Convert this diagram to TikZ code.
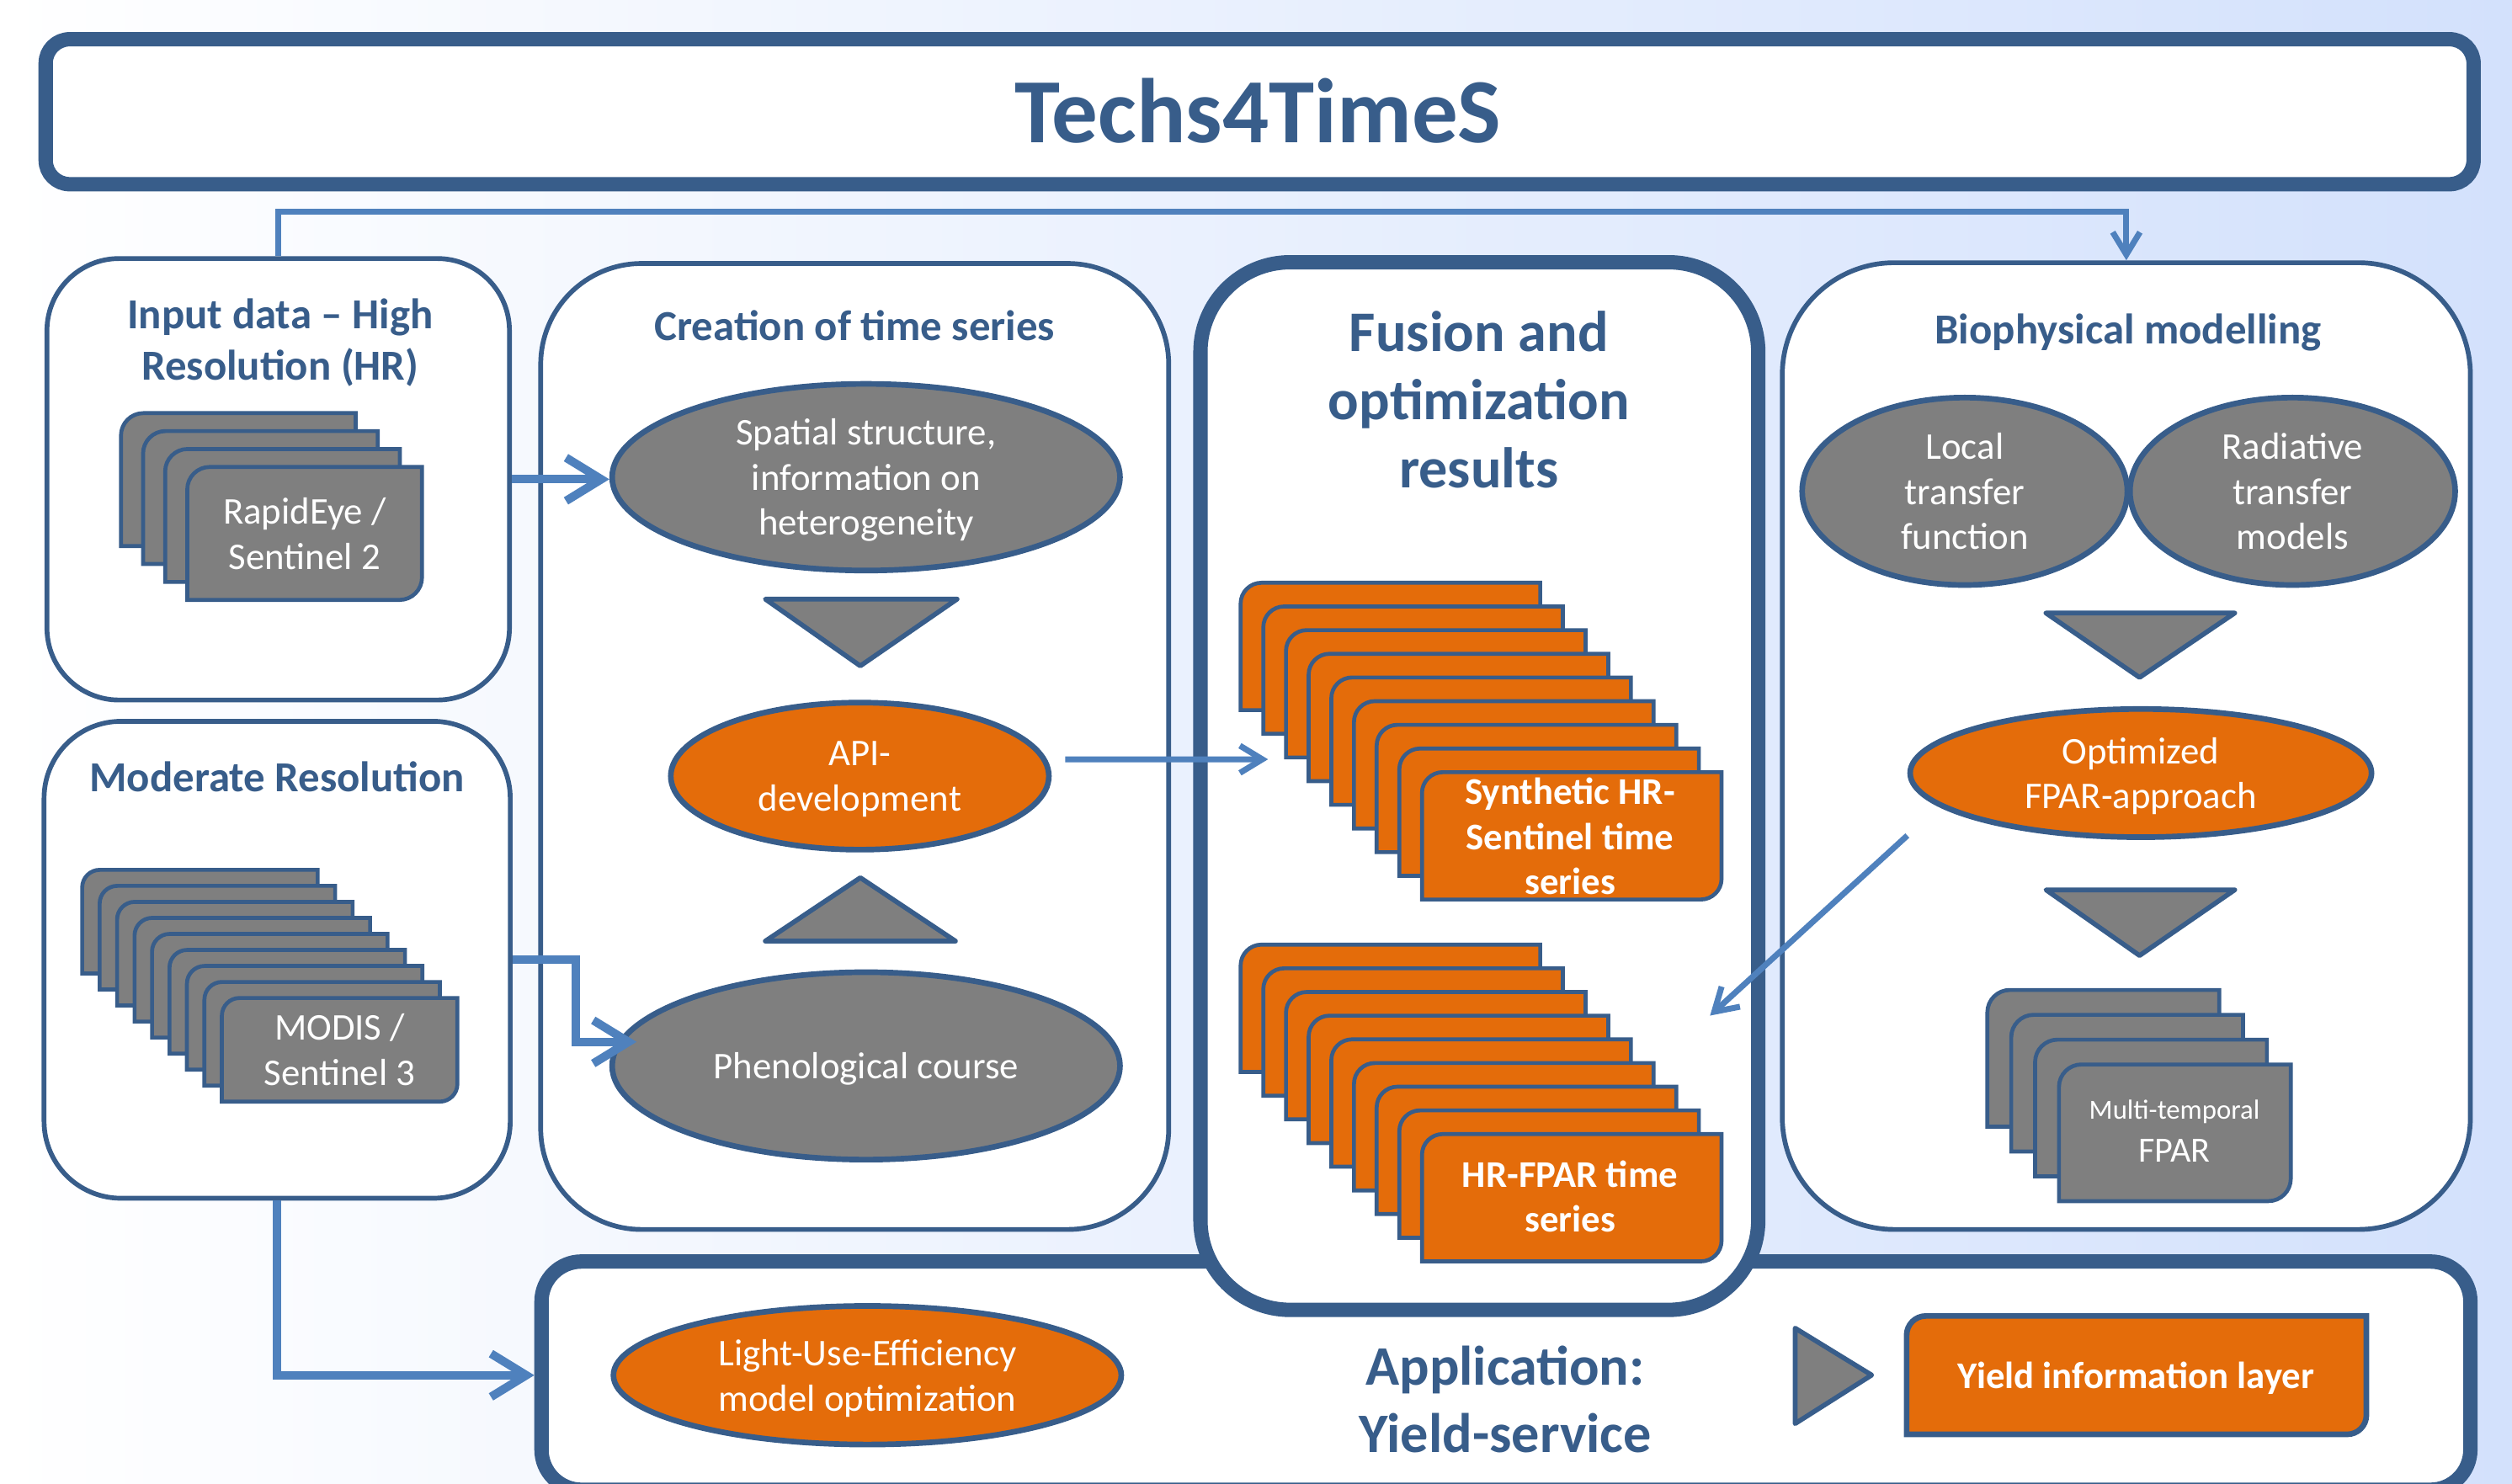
\documentclass[tikz,border=0pt]{standalone}
\usepackage{fontspec}
\setmainfont{Carlito}
\usetikzlibrary{shapes.geometric,arrows.meta,calc}

\definecolor{dkblue}{HTML}{385D8A}
\definecolor{arrowblue}{HTML}{4F81BD}
\definecolor{boxorange}{HTML}{E46C0A}
\definecolor{boxgray}{HTML}{7F7F7F}
\definecolor{bgblue}{HTML}{D3E1FC}

\tikzset{
  panel/.style={draw=dkblue, line width=0.85pt, fill=white},
  thickpanel/.style={draw=dkblue, line width=2.55pt, fill=white},
  paneltitle/.style={text=dkblue, align=center, font=\fontsize{7.6pt}{9.1pt}\selectfont\bfseries},
  bubble/.style={ellipse, draw=dkblue, line width=1pt, inner sep=0pt, text depth=0pt, text=white, align=center, font=\fontsize{6.7pt}{8pt}\selectfont},
  graybubble/.style={bubble, fill=boxgray},
  orangebubble/.style={bubble, fill=boxorange},
  sheetline/.style={draw=dkblue, line width=0.7pt},
  sheettext/.style={text=white, align=center, font=\fontsize{6.7pt}{8pt}\selectfont},
  marker/.style={draw=dkblue, line width=0.85pt, fill=boxgray, line join=round},
  thickarrow/.style={draw=arrowblue, line width=1.5pt, -{Straight Barb[length=2.2mm,width=2.7mm]}},
  thinarrow/.style={draw=arrowblue, line width=1.05pt, -{Straight Barb[length=1.4mm,width=1.7mm]}},
}

% one sheet of a stack: x, top y, width, height, corner radius, style
\newcommand{\stacksheet}[6]{%
  \filldraw[sheetline, #6] (#1,#2-#4) -- (#1,#2-#5)
    arc[start angle=180, end angle=90, radius=#5] -- (#1+#3,#2)
    -- (#1+#3,#2-#4+#5) arc[start angle=0, end angle=-90, radius=#5] -- cycle;}

\begin{document}
\begin{tikzpicture}
    %% background
    \shade[left color=white, right color=bgblue] (0,0) rectangle (15.68,9.26);
    \useasboundingbox (0,0) rectangle (15.68,9.26);

    %% title
    \node[thickpanel, rounded corners=0.15cm, minimum width=15.155cm, minimum height=0.905cm] (head) at (7.8625,8.5625) {};
    \node[anchor=base, text=dkblue, font=\fontsize{16.3pt}{19pt}\selectfont\bfseries] (headtext) at (7.853,8.369) {Techs4TimeS};

    %% panels
    \node[panel, rounded corners=0.45cm, minimum width=2.887cm, minimum height=2.756cm] (input) at (1.7365,6.268) {};
    \node[panel, rounded corners=0.48cm, minimum width=2.91cm, minimum height=2.977cm] (moderate) at (1.73,3.2685) {};
    \node[panel, rounded corners=0.63cm, minimum width=3.92cm, minimum height=6.03cm] (creation) at (5.335,4.6) {};
    \node[panel, rounded corners=0.7cm, minimum width=4.295cm, minimum height=6.035cm] (bio) at (13.2725,4.6025) {};
    \node[thickpanel, rounded corners=0.25cm, minimum width=12.04cm, minimum height=1.425cm] (app) at (9.4,0.6725) {};
    \node[thickpanel, rounded corners=0.56cm, minimum width=3.482cm, minimum height=6.54cm] (fusion) at (9.234,4.353) {};

    %% panel titles
    \node[paneltitle] (inputtitle) at (1.749,7.119) {Input data – High\\Resolution (HR)};
    \node[paneltitle, anchor=base] (modtitle) at (1.73,4.32) {Moderate Resolution};
    \node[paneltitle, anchor=base] (creatitle) at (5.336,7.133) {Creation of time series};
    \node[paneltitle, anchor=base] (biotitle) at (13.283,7.114) {Biophysical modelling};
    \node[paneltitle, font=\fontsize{10.2pt}{12.1pt}\selectfont\bfseries] (fusiontitle) at (9.231,6.763) {Fusion and\\optimization\\results};
    \node[paneltitle, font=\fontsize{9.9pt}{11.9pt}\selectfont\bfseries] (apptitle) at (9.395,0.523) {Application:\\Yield-service};

    %% stacks
    \foreach \i in {0,...,3}
        \stacksheet{0.755+0.138*\i}{6.681-0.112*\i}{1.465}{0.83}{0.14}{fill=boxgray};
    \node[sheettext] (rapid) at (1.9015,5.927) {RapidEye /\\Sentinel 2};
    \foreach \i in {0,...,8}
        \stacksheet{0.513+0.109*\i}{3.83-0.10*\i}{1.47}{0.647}{0.11}{fill=boxgray};
    \node[sheettext] (modis) at (2.12,2.706) {MODIS /\\Sentinel 3};
    \foreach \i in {0,...,8}
        \stacksheet{7.744+0.1415*\i}{5.622-0.1478*\i}{1.87}{0.795}{0.13}{fill=boxorange};
    \node[sheettext, font=\fontsize{6.7pt}{8pt}\selectfont\bfseries] (synth) at (9.80,4.038) {Synthetic HR-\\Sentinel time\\series};
    \foreach \i in {0,...,8}
        \stacksheet{7.744+0.1415*\i}{3.363-0.1478*\i}{1.87}{0.795}{0.13}{fill=boxorange};
    \node[sheettext, font=\fontsize{6.7pt}{8pt}\selectfont\bfseries] (hrfpar) at (9.80,1.791) {HR-FPAR time\\series};
    \foreach \i in {0,...,3}
        \stacksheet{12.405+0.149*\i}{3.08-0.155*\i}{1.447}{0.853}{0.14}{fill=boxgray};
    \node[sheettext, font=\fontsize{6.3pt}{7.6pt}\selectfont] (multi) at (13.573,2.199) {{\fontsize{4.9pt}{7.6pt}\selectfont Multi-temporal}\\FPAR};

    %% ellipses
    \node[graybubble, minimum width=3.17cm, minimum height=1.165cm] (spatial) at (5.406,6.281) {Spatial structure,\\information on\\heterogeneity};
    \node[orangebubble, minimum width=2.36cm, minimum height=0.918cm] (api) at (5.367,4.415) {API-\\development};
    \node[graybubble, minimum width=3.17cm, minimum height=1.17cm] (pheno) at (5.406,2.606) {Phenological course};
    \node[graybubble, minimum width=2.03cm, minimum height=1.17cm] (local) at (12.264,6.193) {Local\\transfer\\function};
    \node[graybubble, minimum width=2.03cm, minimum height=1.17cm] (radiative) at (14.31,6.193) {Radiative\\transfer\\models};
    \node[orangebubble, minimum width=2.88cm, minimum height=0.80cm] (fpar) at (13.363,4.434) {Optimized\\FPAR-approach};
    \node[orangebubble, minimum width=3.17cm, minimum height=0.865cm] (lue) at (5.414,0.675) {Light-Use-Efficiency\\model optimization};

    %% triangles
    \filldraw[marker] (4.777,5.52) -- (5.974,5.52) -- (5.37,5.103) -- cycle;
    \filldraw[marker] (4.777,3.385) -- (5.964,3.385) -- (5.37,3.781) -- cycle;
    \filldraw[marker] (12.771,5.433) -- (13.949,5.433) -- (13.355,5.031) -- cycle;
    \filldraw[marker] (12.771,3.705) -- (13.949,3.705) -- (13.355,3.295) -- cycle;
    \filldraw[marker] (11.205,0.969) -- (11.205,0.373) -- (11.683,0.676) -- cycle;

    %% yield layer
    \stacksheet{11.901}{1.045}{2.87}{0.739}{0.12}{fill=boxorange, line width=1pt};
    \node[sheettext, anchor=base, font=\fontsize{6.7pt}{8pt}\selectfont\bfseries] (yield) at (13.333,0.59) {Yield information layer};

    %% connectors
    \coordinate (synthin) at (7.915,4.52);
    \coordinate (hrin) at (10.674,2.92);
    \draw[thinarrow] (input.north) -- ++(0,0.276) -| (bio.north);
    \draw[thickarrow] (input.east) -- (input.east -| spatial.west);
    \draw[thickarrow] (moderate.east) -- ++(0.395,0) |- ($(pheno.west)+(0.17,0.15)$);
    \draw[thickarrow] (moderate.south) |- (app.west |- lue);
    \draw[thinarrow] ([shift={(0.085,0.105)}]api.east) -- (synthin);
    \draw[thinarrow] ([yshift=-0.39cm]fpar.west) -- (hrin);
\end{tikzpicture}
\end{document}
